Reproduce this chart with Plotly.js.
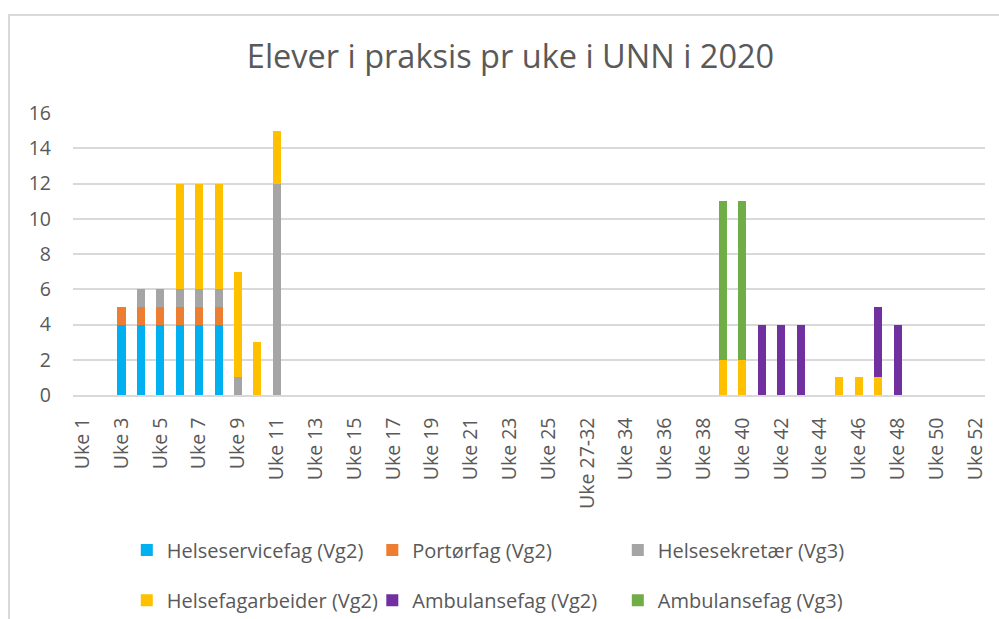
<!DOCTYPE html>
<html>
<head>
<meta charset="utf-8">
<script src="https://cdn.plot.ly/plotly-3.0.1.min.js"></script>
<style>
  html, body { margin: 0; padding: 0; background: #ffffff; }
  #frame { position: absolute; left: 8px; top: 14px; width: 1200px; height: 800px;
           border-left: 2px solid #d9d9d9; border-top: 2px solid #d9d9d9; }
  #chart { position: absolute; left: 0; top: 0; width: 999px; height: 619px; }
</style>
</head>
<body>
<div id="frame"></div>
<div id="chart"></div>
<script>
const categories = [
  "Uke 1","Uke 2","Uke 3","Uke 4","Uke 5","Uke 6","Uke 7","Uke 8","Uke 9","Uke 10",
  "Uke 11","Uke 12","Uke 13","Uke 14","Uke 15","Uke 16","Uke 17","Uke 18","Uke 19","Uke 20",
  "Uke 21","Uke 22","Uke 23","Uke 24","Uke 25","Uke 26","Uke 27-32","Uke 33","Uke 34","Uke 35",
  "Uke 36","Uke 37","Uke 38","Uke 39","Uke 40","Uke 41","Uke 42","Uke 43","Uke 44","Uke 45",
  "Uke 46","Uke 47","Uke 48","Uke 49","Uke 50","Uke 51","Uke 52"
];

const tickLabels = [
  "Uke 1","Uke 3","Uke 5","Uke 7","Uke 9","Uke 11","Uke 13","Uke 15","Uke 17","Uke 19",
  "Uke 21","Uke 23","Uke 25","Uke 27-32","Uke 34","Uke 36","Uke 38","Uke 40","Uke 42","Uke 44",
  "Uke 46","Uke 48","Uke 50","Uke 52"
];

//                        1 2 3 4 5 6 7 8 9 10 11 .........................26 27-32 33 .......................52
const helseservicefag  = [0,0,4,4,4,4,4,4,0,0, 0,0,0,0,0,0,0,0,0,0, 0,0,0,0,0,0, 0, 0,0,0,0,0,0,0,0,0,0,0,0,0,0,0,0,0,0,0,0];
const portorfag        = [0,0,1,1,1,1,1,1,0,0, 0,0,0,0,0,0,0,0,0,0, 0,0,0,0,0,0, 0, 0,0,0,0,0,0,0,0,0,0,0,0,0,0,0,0,0,0,0,0];
const helsesekretaer   = [0,0,0,1,1,1,1,1,1,0,12,0,0,0,0,0,0,0,0,0, 0,0,0,0,0,0, 0, 0,0,0,0,0,0,0,0,0,0,0,0,0,0,0,0,0,0,0,0];
const helsefagarbeider = [0,0,0,0,0,6,6,6,6,3, 3,0,0,0,0,0,0,0,0,0, 0,0,0,0,0,0, 0, 0,0,0,0,0,0,2,2,0,0,0,0,1,1,1,0,0,0,0,0];
const ambulanseVg2     = [0,0,0,0,0,0,0,0,0,0, 0,0,0,0,0,0,0,0,0,0, 0,0,0,0,0,0, 0, 0,0,0,0,0,0,0,0,4,4,4,0,0,0,4,4,0,0,0,0];
const ambulanseVg3     = [0,0,0,0,0,0,0,0,0,0, 0,0,0,0,0,0,0,0,0,0, 0,0,0,0,0,0, 0, 0,0,0,0,0,0,9,9,0,0,0,0,0,0,0,0,0,0,0,0];

const seriesNames = ["Helseservicefag (Vg2)","Portørfag (Vg2)","Helsesekretær (Vg3)",
                     "Helsefagarbeider (Vg2)","Ambulansefag (Vg2)","Ambulansefag (Vg3)"];
const seriesValues = [helseservicefag, portorfag, helsesekretaer, helsefagarbeider, ambulanseVg2, ambulanseVg3];
const colors = ["#00B0F0","#ED7D31","#A5A5A5","#FFC000","#7030A0","#70AD47"];
const legendIds = ["legend","legend","legend","legend2","legend2","legend2"];

const FONT = "'Open Sans', 'Noto Sans', sans-serif";
const GREY = "#595959";

const traces = seriesNames.map((name, i) => ({
  type: "bar",
  name: name,
  x: categories,
  y: seriesValues[i],
  marker: { color: colors[i], line: { width: 0 } },
  legend: legendIds[i],
  hoverinfo: "x+y+name"
}));

const legendCommon = {
  orientation: "h",
  xanchor: "left",
  yanchor: "middle",
  x: 0.059,
  entrywidth: 200.5,
  entrywidthmode: "pixels",
  font: { family: FONT, size: 20, color: GREY },
  bgcolor: "rgba(0,0,0,0)",
  traceorder: "normal",
  itemwidth: 30
};

const layout = {
  width: 999,
  height: 619,
  paper_bgcolor: "rgba(0,0,0,0)",
  plot_bgcolor: "rgba(0,0,0,0)",
  margin: { l: 73, r: 14, t: 113, b: 224, autoexpand: false },
  barmode: "stack",
  bargap: 0.585,
  showlegend: true,
  title: {
    text: "Elever i praksis pr uke i UNN i 2020",
    font: { family: FONT, size: 32.5, color: GREY },
    x: 0.511, xanchor: "center",
    y: 0.909, yanchor: "middle"
  },
  xaxis: {
    type: "category",
    categoryorder: "array",
    categoryarray: categories,
    tickmode: "array",
    tickvals: tickLabels,
    ticktext: tickLabels,
    tickangle: -90,
    ticks: "",
    ticklabelstandoff: 13,
    tickfont: { family: FONT, size: 19.5, color: GREY },
    showgrid: false,
    showline: true,
    linecolor: "#d9d9d9",
    linewidth: 1.5,
    zeroline: false,
    automargin: false
  },
  yaxis: {
    range: [0, 16],
    dtick: 2,
    tick0: 0,
    ticks: "",
    ticklabelstandoff: 21,
    tickfont: { family: FONT, size: 19.5, color: GREY },
    showgrid: true,
    gridcolor: "#d9d9d9",
    gridwidth: 1.5,
    zeroline: false,
    showline: false,
    automargin: false
  },
  legend: Object.assign({}, legendCommon, { y: -0.55 }),
  legend2: Object.assign({}, legendCommon, { y: -0.728 })
};

Plotly.newPlot("chart", traces, layout, { displayModeBar: false });
</script>
</body>
</html>
